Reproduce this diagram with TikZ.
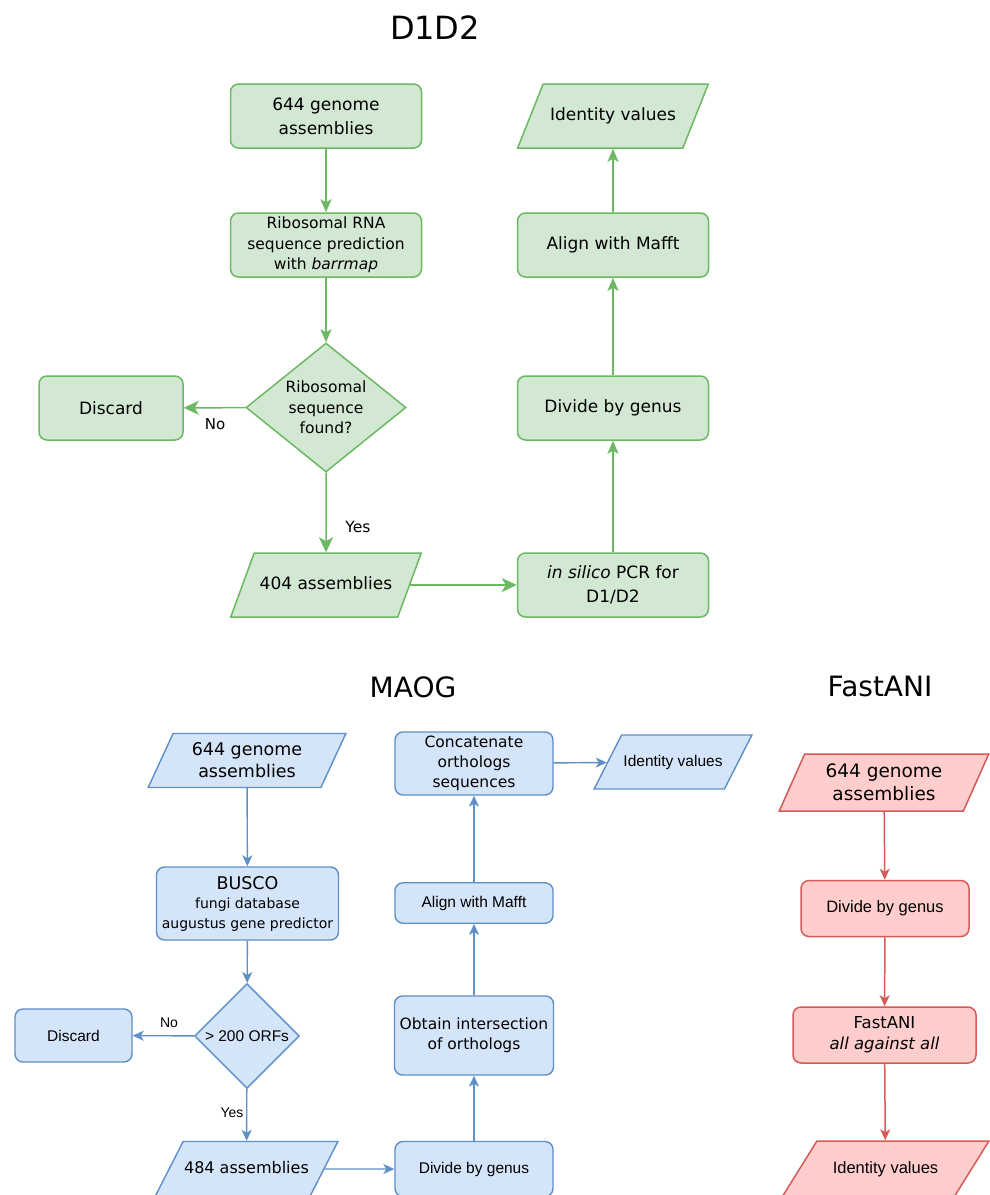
\documentclass[tikz,border=0pt]{standalone}
\usepackage{fontspec}
\setmainfont{DejaVu Sans}
\newfontfamily\arialfont{Liberation Sans}
\usepackage{tikz}
\usetikzlibrary{arrows.meta}
\usetikzlibrary{shapes.geometric}

\definecolor{gfill}{HTML}{D2E8D3}
\definecolor{gline}{HTML}{6CB863}
\definecolor{bfill}{HTML}{D4E5FA}
\definecolor{bline}{HTML}{5E8FC6}
\definecolor{rfill}{HTML}{FFCDCC}
\definecolor{rline}{HTML}{D65B58}
\newcommand{\fsz}[2]{\fontsize{#1}{#2}\selectfont}

\begin{document}
\begin{tikzpicture}[x=1pt,y=-1pt,
		gbox/.style={rectangle,rounded corners=8pt,draw=gline,fill=gfill,line width=1.5pt,minimum width=191pt,minimum height=64pt,align=center,inner sep=1pt,font=\fsz{17}{24}},
		gpara/.style={trapezium,trapezium left angle=71,trapezium right angle=109,trapezium stretches=true,draw=gline,fill=gfill,line width=1.5pt,minimum width=191pt,text height=12pt,text depth=4pt,inner xsep=1pt,inner ysep=24pt,font=\fsz{17}{24}},
		gdia/.style={diamond,aspect=1.24,draw=gline,fill=gfill,line width=1.5pt,minimum width=160pt,minimum height=129pt,align=center,inner sep=0pt,font=\fsz{15.5}{20.5}},
		garr/.style={draw=gline,line width=1.5pt,-{Stealth[length=13pt,width=11pt,inset=3pt]}},
		gbig/.style={draw=gline,line width=1.5pt,-{Stealth[length=15pt,width=14pt,inset=4pt]}},
		bbox/.style={rectangle,rounded corners=8pt,draw=bline,fill=bfill,line width=1.4pt,align=center,inner sep=1pt,font=\arialfont\fsz{15.5}{20}},
		bpara/.style={trapezium,trapezium left angle=63,trapezium right angle=117,trapezium stretches=true,draw=bline,fill=bfill,line width=1.4pt,minimum height=54pt,inner sep=1pt,font=\fsz{17.5}{22}},
		bone/.style={bpara,text height=12pt,text depth=4pt,inner ysep=#1},
		barr/.style={draw=bline,line width=1.4pt,-{Stealth[length=11pt,width=10pt,inset=3pt]}},
		rbox/.style={rectangle,rounded corners=8pt,draw=rline,fill=rfill,line width=1.5pt,minimum height=56pt,align=center,inner sep=1pt,font=\arialfont\fsz{16.5}{21}},
		rpara/.style={trapezium,trapezium left angle=64,trapezium right angle=116,trapezium stretches=true,draw=rline,fill=rfill,line width=1.5pt,inner sep=1pt},
		rarr/.style={draw=rline,line width=1.5pt,-{Stealth[length=11pt,width=10pt,inset=3pt]}},
		ttl/.style={inner sep=0pt}]
	\useasboundingbox[fill=white] (0,0) rectangle (989,1195);

	% D1D2
	\node[ttl,font=\fsz{32}{36}] (t1) at (435,28) {D1D2};
	\node[gbox] (g1) at (326,116) {644 genome\\assemblies};
	\node[gbox,font=\fsz{15.5}{20.5}] (g2) at (326,245) {Ribosomal RNA\\sequence prediction\\with \textit{barrmap}};
	\node[gdia] (g3) at (326,407.5) {Ribosomal\\sequence\\found?};
	\node[gbox,minimum width=144pt] (g4) at (111,408) {Discard};
	\node[gpara] (g5) at (326,585) {404 assemblies};
	\node[gbox,font=\fsz{17}{23.5}] (g6) at (613,585) {\textit{in silico} PCR for\\D1/D2};
	\node[gbox] (g7) at (613,408) {Divide by genus};
	\node[gbox] (g8) at (613,245) {Align with Mafft};
	\node[gpara,trapezium left angle=70,trapezium right angle=110] (g9) at (613,116) {Identity values};
	\node[font=\fsz{15}{18}] (gno) at (215,424) {No};
	\node[font=\fsz{15.5}{18}] (gyes) at (358,527) {Yes};

	\draw[garr] (g1) -- (g2);
	\draw[garr] (g2) -- (g3);
	\draw[gbig] (g3) -- (g4);
	\draw[gbig] (g3) -- (g5);
	\draw[gbig] (g5) -- (g6);
	\draw[garr] (g6) -- (g7);
	\draw[garr] (g7) -- (g8);
	\draw[garr] (g8) -- (g9);

	% MAOG
	\node[ttl,font=\fsz{28}{32}] (t2) at (413,687) {MAOG};
	\node[bpara,align=center,minimum width=198pt] (b1) at (247,760.5) {644 genome\\assemblies};
	\node[bbox,minimum width=182pt,minimum height=73pt,font=\fsz{14}{19.5}] (b2) at (247.5,903.5) {{\fsz{17.5}{20}BUSCO}\\fungi database\\augustus gene predictor};
	\node[diamond,aspect=1,draw=bline,fill=bfill,line width=1.4pt,minimum width=105pt,minimum height=105pt,inner sep=0pt,font=\arialfont\fsz{15.5}{18}] (b3) at (247,1036) {> 200 ORFs};
	\node[bbox,minimum width=117pt,minimum height=53pt] (b4) at (73.5,1035.5) {Discard};
	\node[bone=19.5pt,minimum width=177pt,font=\fsz{16}{20}] (b5) at (246.5,1169) {484 assemblies};
	\node[bbox,minimum width=158pt,minimum height=55pt] (b6) at (474,1169) {Divide by genus};
	\node[bbox,minimum width=159pt,minimum height=79pt,font=\fsz{15.5}{20}] (b7) at (474,1035.5) {Obtain intersection\\of orthologs};
	\node[bbox,minimum width=158pt,minimum height=40.5pt] (b8) at (474,903) {Align with Mafft};
	\node[bbox,minimum width=158pt,minimum height=63pt,font=\fsz{15.5}{20}] (b9) at (474,763.5) {Concatenate\\orthologs\\sequences};
	\node[bone=18.5pt,minimum width=158pt,font=\arialfont\fsz{15.5}{18}] (b10) at (673,762) {Identity values};
	\node[font=\arialfont\fsz{14}{16}] (bno) at (169,1023) {No};
	\node[font=\arialfont\fsz{14}{16}] (byes) at (232,1113) {Yes};

	\draw[barr] (b1) -- (b2);
	\draw[barr] (b2) -- (b3);
	\draw[barr] (b3) -- (b4);
	\draw[barr] (b3) -- (b5);
	\draw[barr] (b5) -- (b6);
	\draw[barr] (b6) -- (b7);
	\draw[barr] (b7) -- (b8);
	\draw[barr] (b8) -- (b9);
	\draw[barr] (b9) -- (b10);

	% FastANI
	\node[ttl,font=\fsz{28}{32}] (t3) at (880,686) {FastANI};
	\node[rpara,align=center,minimum width=210pt,minimum height=57pt,font=\fsz{18.5}{23}] (r1) at (884,782.5) {644 genome\\assemblies};
	\node[rbox,minimum width=168pt] (r2) at (885,908.5) {Divide by genus};
	\node[rbox,minimum width=183pt,font=\fsz{16.5}{21}] (r3) at (884.5,1035) {FastANI\\\textit{all against all}};
	\node[rpara,minimum width=207pt,text height=12pt,text depth=4pt,inner ysep=20pt,font=\arialfont\fsz{16.5}{20}] (r4) at (885.5,1169) {Identity values};

	\draw[rarr] (r1) -- (r2);
	\draw[rarr] (r2) -- (r3);
	\draw[rarr] (r3) -- (r4);
\end{tikzpicture}
\end{document}
